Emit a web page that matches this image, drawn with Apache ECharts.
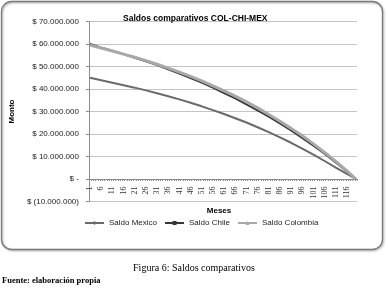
<!DOCTYPE html>
<html>
<head>
<meta charset="utf-8">
<script src="https://cdn.jsdelivr.net/npm/echarts@6/dist/echarts.min.js"></script>
<style>
html,body{margin:0;padding:0;background:#fff;}
#c{width:388px;height:307px;}
</style>
</head>
<body>
<div id="c"></div>
<script>
// Months (categories)
const months = ['1','2','3','4','5','6','7','8','9','10','11','12','13','14','15','16','17','18','19','20',
'21','22','23','24','25','26','27','28','29','30','31','32','33','34','35','36','37','38','39','40',
'41','42','43','44','45','46','47','48','49','50','51','52','53','54','55','56','57','58','59','60',
'61','62','63','64','65','66','67','68','69','70','71','72','73','74','75','76','77','78','79','80',
'81','82','83','84','85','86','87','88','89','90','91','92','93','94','95','96','97','98','99','100',
'101','102','103','104','105','106','107','108','109','110','111','112','113','114','115','116','117','118','119','120'];
const sampleMonths = ['1','6','11','16','21','26','31','36','41','46','51','56','61','66','71','76','81','86','91','96','101','106','111','116','120'];
// Balances in millions of pesos
const saldoMexico   = [45.0,43.9,42.8,41.7,40.6,39.4,38.1,36.8,35.4,33.9,32.3,30.6,28.9,27.0,25.1,23.0,20.8,18.5,16.1,13.5,10.8,8.0,5.1,2.3,0];
const saldoChile    = [60.0,58.4,57.0,55.5,53.9,52.3,50.6,48.8,46.9,44.9,42.8,40.6,38.2,35.8,33.2,30.5,27.7,24.7,21.6,18.3,14.8,11.2,7.4,3.4,0];
const saldoColombia = [59.5,58.2,56.9,55.5,54.1,52.6,51.0,49.3,47.5,45.6,43.6,41.4,39.2,36.8,34.3,31.6,28.7,25.7,22.5,19.2,15.6,11.8,7.8,3.6,0];
const yTicks = [-10,0,10,20,30,40,50,60,70];
const seriesNames = ['Saldo Mexico','Saldo Chile','Saldo Colombia'];

function pairs(vals){ return sampleMonths.map((m,i)=>[m, vals[i]]); }
function fmtY(v){
  if (v === 0) return '$ -';
  const s = Math.abs(v) + '.000.000';
  return v < 0 ? '$ (' + s + ')' : '$ ' + s;
}

const chart = echarts.init(document.getElementById('c'), null, {renderer:'canvas'});
chart.setOption({
  animation:false,
  backgroundColor:'#fff',
  title:{
    text:'Saldos comparativos COL-CHI-MEX',
    left:118, top:9,
    textStyle:{fontFamily:'Liberation Sans', fontSize:8.5, fontWeight:'bold', color:'#000'}
  },
  grid:{left:83, right:31, top:21.5, bottom:105.5},
  legend:{
    data:seriesNames,
    left:79, top:214,
    itemWidth:19, itemHeight:5, itemGap:7,
    textStyle:{fontFamily:'Liberation Sans', fontSize:8, color:'#222'}
  },
  xAxis:{
    type:'category',
    data:months,
    boundaryGap:true,
    axisLine:{onZero:true, lineStyle:{color:'#8c8c8c', width:1}},
    axisTick:{show:true, interval:0, length:2, lineStyle:{color:'#8c8c8c'}},
    axisLabel:{interval:4, rotate:90, margin:-15, fontFamily:'Liberation Serif', fontSize:8, color:'#333'},
    splitLine:{show:false}
  },
  yAxis:{
    type:'value',
    min:yTicks[0], max:yTicks[yTicks.length-1], interval:10,
    name:'Monto',
    nameLocation:'middle',
    nameGap:66,
    nameTextStyle:{fontFamily:'Liberation Sans', fontSize:8, fontWeight:'bold', color:'#000'},
    axisLine:{show:true, lineStyle:{color:'#8c8c8c'}},
    axisTick:{show:true, length:3, lineStyle:{color:'#8c8c8c'}},
    axisLabel:{formatter:fmtY, margin:10, fontFamily:'Liberation Sans', fontSize:8, color:'#222'},
    splitLine:{show:true, lineStyle:{color:'#c4c4c4', width:1}}
  },
  graphic:[
    {type:'rect', z:-10, shape:{x:1.5, y:1.5, width:381, height:248, r:10},
     style:{fill:'none', stroke:'#7a7a7a', lineWidth:1.3, shadowBlur:2, shadowColor:'rgba(0,0,0,0.35)', shadowOffsetX:1, shadowOffsetY:1}},
    {type:'text', x:219, y:211,
     style:{text:'Meses', font:'bold 8px "Liberation Sans"', fill:'#000', textAlign:'center', textVerticalAlign:'middle'}},
    {type:'text', left:'center', top:263,
     style:{text:'Figura 6: Saldos comparativos', font:'10px "Liberation Serif"', fill:'#000'}},
    {type:'text', left:2, top:276,
     style:{text:'Fuente: elaboración propia', font:'bold 8.5px "Liberation Serif"', fill:'#000'}}
  ],
  series:[
    {name:seriesNames[0], type:'line', data:pairs(saldoMexico), showSymbol:false, symbol:'diamond', symbolSize:5,
     itemStyle:{color:'#6a6a6a'}, lineStyle:{color:'#6a6a6a', width:2}},
    {name:seriesNames[1], type:'line', data:pairs(saldoChile), showSymbol:false, symbol:'rect', symbolSize:4,
     itemStyle:{color:'#363636'}, lineStyle:{color:'#363636', width:2}},
    {name:seriesNames[2], type:'line', data:pairs(saldoColombia), showSymbol:false, symbol:'triangle', symbolSize:5,
     itemStyle:{color:'#a8a8a8'}, lineStyle:{color:'#a8a8a8', width:3}}
  ]
});
</script>
</body>
</html>
